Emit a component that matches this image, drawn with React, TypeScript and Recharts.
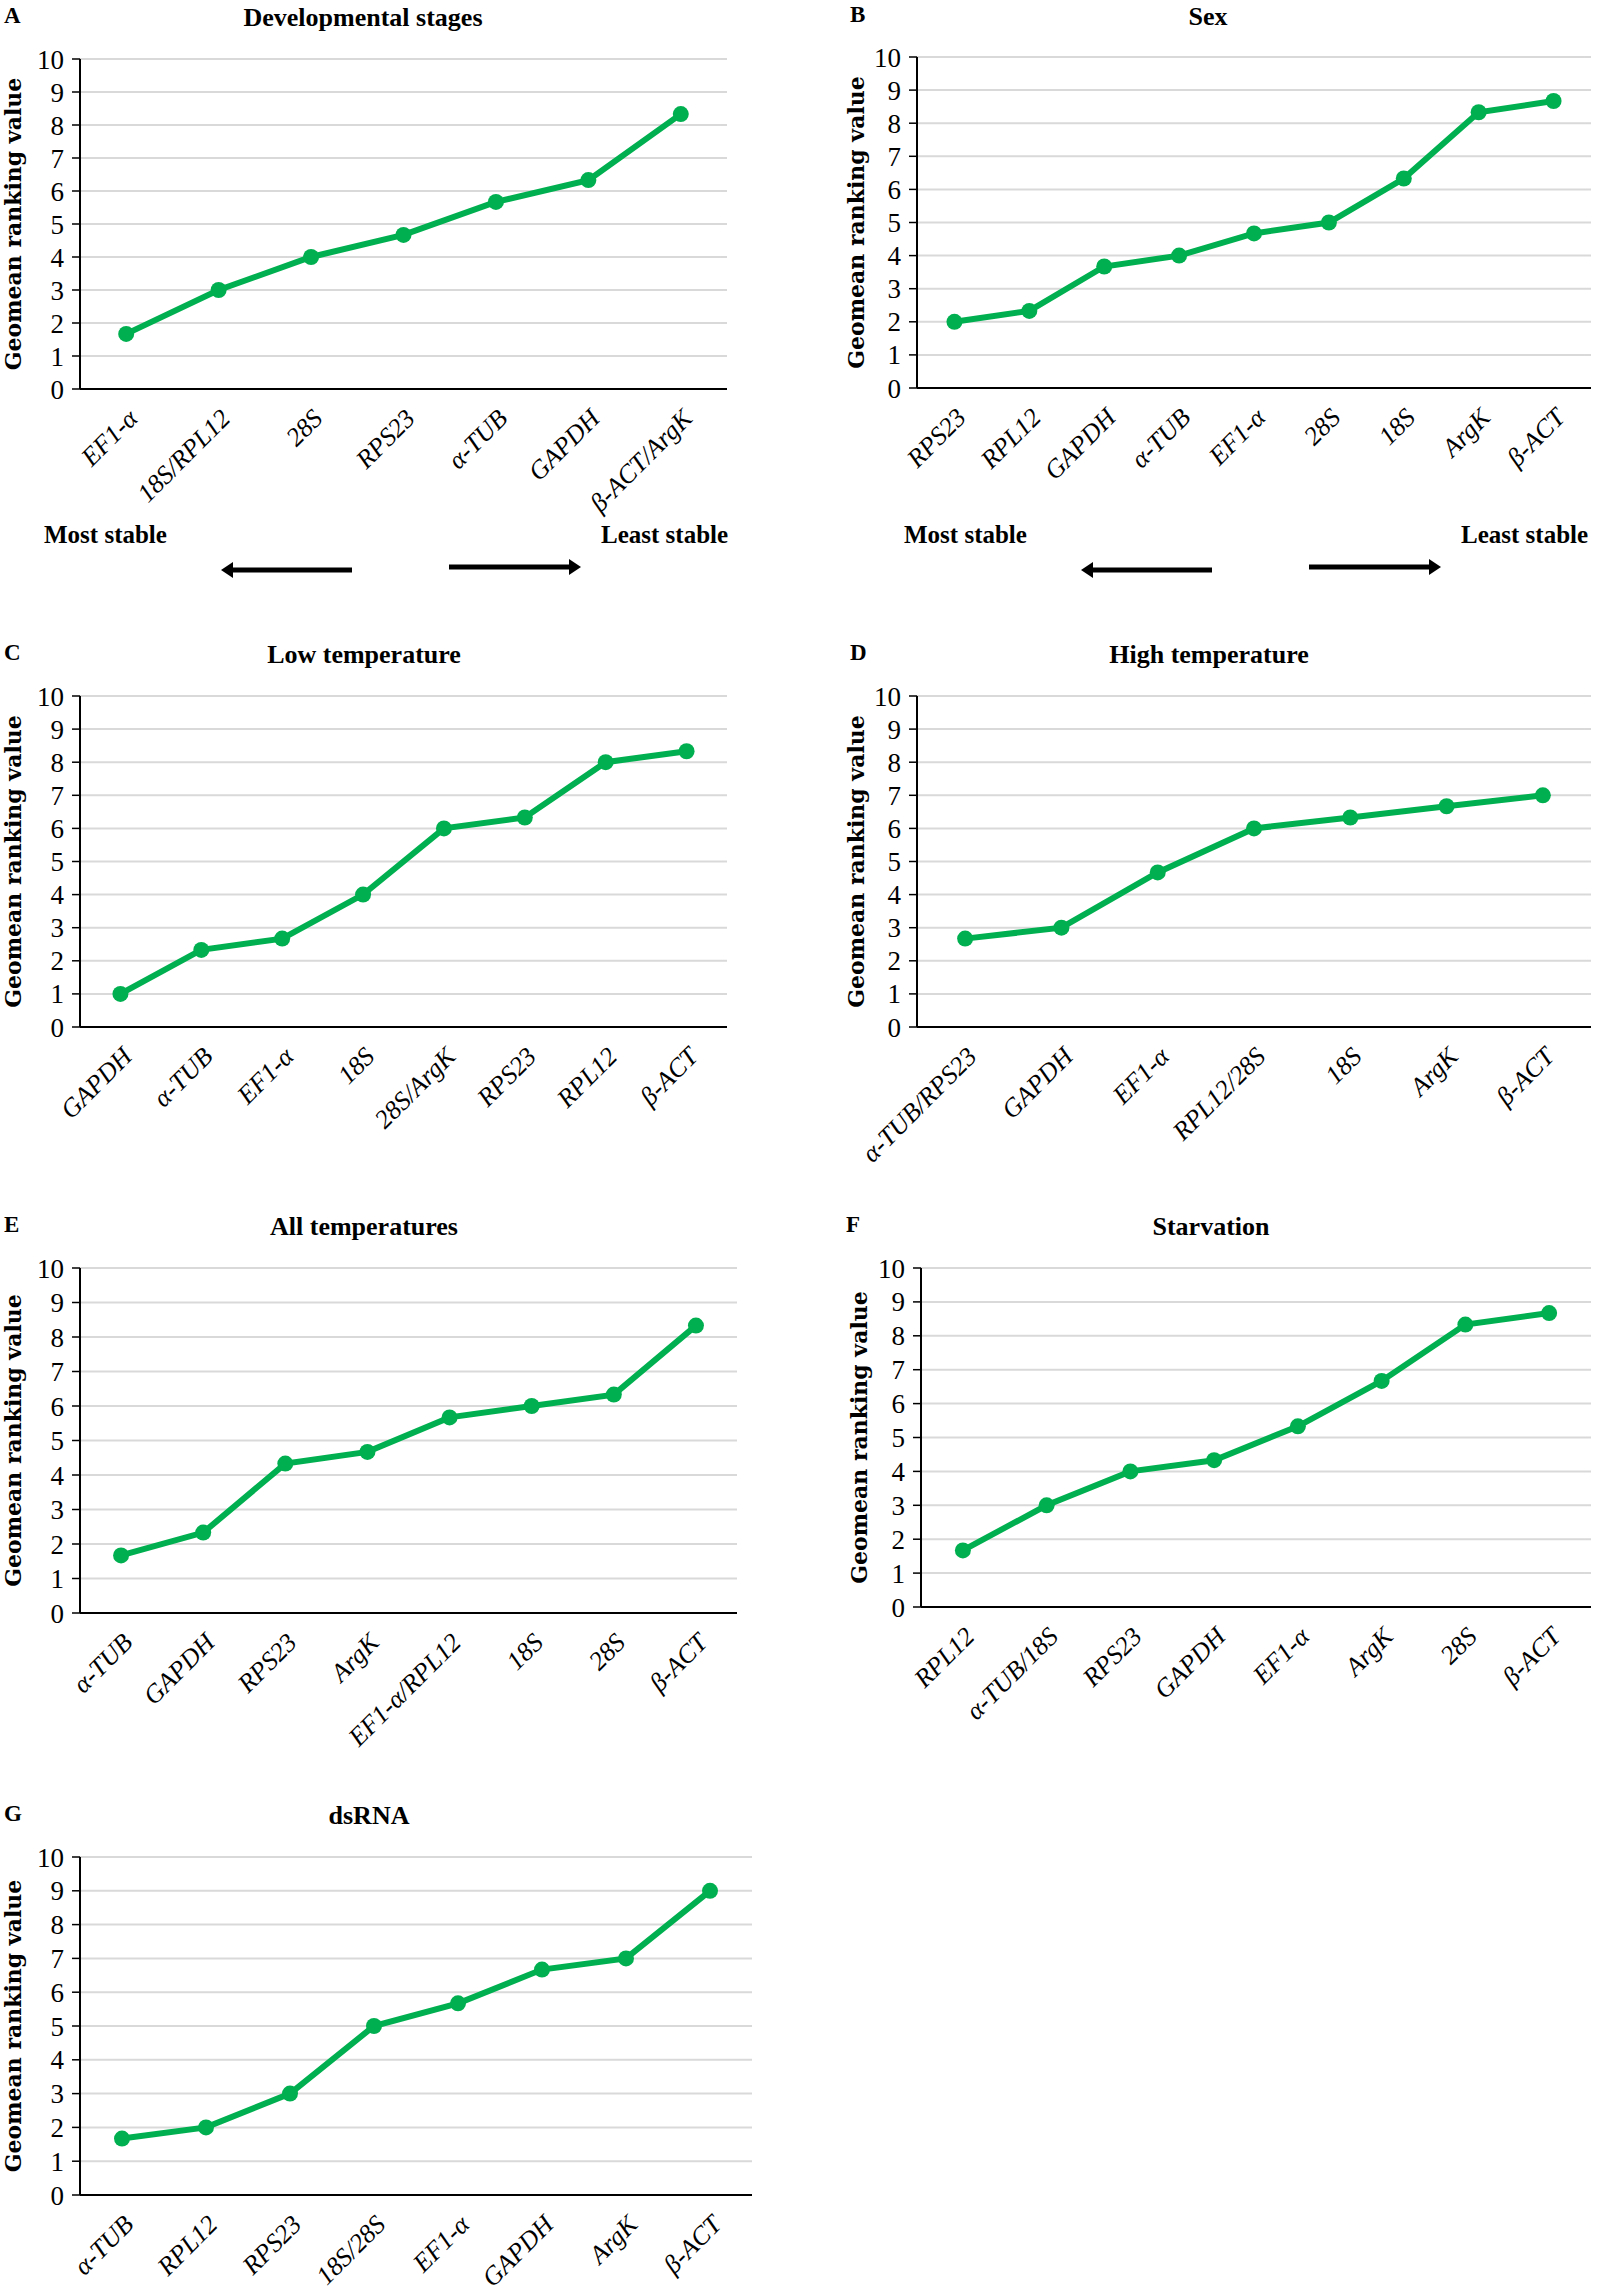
import React from "react";
import {CartesianGrid, Line, LineChart, XAxis, YAxis} from "recharts";

const GREEN = '#00b050';
const SERIF = '"Liberation Serif", serif';

// A - developmental stages
const devGenes = ['EF1-α', '18S/RPL12', '28S', 'RPS23', 'α-TUB', 'GAPDH', 'β-ACT/ArgK'];
const devValues = [1.67, 3, 4, 4.67, 5.67, 6.33, 8.33];

// B - sex
const sexGenes = ['RPS23', 'RPL12', 'GAPDH', 'α-TUB', 'EF1-α', '28S', '18S', 'ArgK', 'β-ACT'];
const sexValues = [2, 2.33, 3.67, 4, 4.67, 5, 6.33, 8.33, 8.67];

// C - low temperature
const lowGenes = ['GAPDH', 'α-TUB', 'EF1-α', '18S', '28S/ArgK', 'RPS23', 'RPL12', 'β-ACT'];
const lowValues = [1, 2.33, 2.67, 4, 6, 6.33, 8, 8.33];

// D - high temperature
const highGenes = ['α-TUB/RPS23', 'GAPDH', 'EF1-α', 'RPL12/28S', '18S', 'ArgK', 'β-ACT'];
const highValues = [2.67, 3, 4.67, 6, 6.33, 6.67, 7];

// E - all temperatures
const allGenes = ['α-TUB', 'GAPDH', 'RPS23', 'ArgK', 'EF1-α/RPL12', '18S', '28S', 'β-ACT'];
const allValues = [1.67, 2.33, 4.33, 4.67, 5.67, 6, 6.33, 8.33];

// F - starvation
const starvGenes = ['RPL12', 'α-TUB/18S', 'RPS23', 'GAPDH', 'EF1-α', 'ArgK', '28S', 'β-ACT'];
const starvValues = [1.67, 3, 4, 4.33, 5.33, 6.67, 8.33, 8.67];

// G - dsRNA
const dsGenes = ['α-TUB', 'RPL12', 'RPS23', '18S/28S', 'EF1-α', 'GAPDH', 'ArgK', 'β-ACT'];
const dsValues = [1.67, 2, 3, 5, 5.67, 6.67, 7, 9];

const yTicks = [0, 1, 2, 3, 4, 5, 6, 7, 8, 9, 10];

const toRows = (genes: string[], values: number[]) => genes.map((gene, i) => ({gene, value: values[i]}));

const XTick = ({x, y, payload}: any) => {
    const tx = x + 13;
    const ty = y + 31;
    return (
        <text x={tx} y={ty} transform={`rotate(-45 ${tx} ${ty})`} textAnchor="end"
              fontFamily={SERIF} fontStyle="italic" fontSize={26} fill="#000">
            {payload.value}
        </text>
    );
};

interface PanelProps {
    letter: string,
    title: string,
    genes: string[],
    values: number[],
    chartX: number,
    left: number,
    right: number,
    top: number,
    bottom: number,
    letterX: number,
    titleX: number,
    labelX: number,
    axisHeight?: number
}

const TOP_PAD = 22;

const Panel = ({letter, title, genes, values, chartX, left, right, top, bottom, letterX, titleX, labelX, axisHeight = 150}: PanelProps) => {
    const data = toRows(genes, values);
    const plotW = right - left;
    const half = plotW / genes.length / 2;
    const chartY = top - TOP_PAD;
    const width = right - chartX + 4;
    const height = bottom - chartY + axisHeight;
    const headTop = Math.max(2, top - 56);
    return (
        <>
            <div style={{position: 'absolute', left: letterX, top: headTop, lineHeight: '26px', fontFamily: SERIF, fontWeight: 'bold', fontSize: 23}}>{letter}</div>
            <div style={{position: 'absolute', left: titleX - 250, width: 500, textAlign: 'center', top: headTop, lineHeight: '30px', fontFamily: SERIF, fontWeight: 'bold', fontSize: 26}}>{title}</div>
            <div style={{position: 'absolute', left: chartX, top: chartY}}>
                <LineChart width={width} height={height} data={data} margin={{top: TOP_PAD, right: 4, bottom: 0, left: 0}}>
                    <CartesianGrid horizontal vertical={false} stroke="#d9d9d9" strokeWidth={2}/>
                    <XAxis dataKey="gene" interval={0} tick={<XTick/>} tickLine={false} tickSize={0} tickMargin={0}
                           height={axisHeight} padding={{left: half, right: half}}
                           axisLine={{stroke: '#000', strokeWidth: 2}}/>
                    <XAxis xAxisId="top" orientation="top" dataKey="gene" tick={false} tickLine={false} height={0}
                           padding={{left: half, right: half}} axisLine={{stroke: '#000', strokeWidth: 2}}/>
                    <YAxis domain={[0, 10]} ticks={yTicks} interval={0} width={left - chartX} tickSize={8} tickMargin={8}
                           axisLine={{stroke: '#000', strokeWidth: 2}} tickLine={{stroke: '#000', strokeWidth: 1.5}}
                           tick={{fontFamily: SERIF, fontSize: 27, fill: '#000'}}
                           label={{
                               value: 'Geomean ranking value', angle: -90, position: 'insideLeft',
                               offset: labelX - chartX,
                               style: {textAnchor: 'middle', fontFamily: '"DejaVu Serif", serif', fontWeight: 'bold', fontSize: 22, fill: '#000'}
                           }}/>
                    <YAxis yAxisId="right" orientation="right" domain={[0, 10]} width={0} tick={false} tickLine={false}
                           axisLine={{stroke: '#000', strokeWidth: 2}}/>
                    <Line type="linear" dataKey="value" stroke={GREEN} strokeWidth={6}
                          dot={{r: 8, fill: GREEN, stroke: GREEN, strokeWidth: 0}}
                          activeDot={false} isAnimationActive={false}/>
                </LineChart>
            </div>
        </>
    );
};

const Arrow = ({x1, x2, y}: { x1: number, x2: number, y: number }) => {
    const dir = x2 > x1 ? 1 : -1;
    const tip = x2;
    const base = x2 - dir * 12;
    return (
        <g>
            <line x1={x1} y1={y} x2={base} y2={y} stroke="#000" strokeWidth={5}/>
            <polygon points={`${tip},${y} ${base},${y - 8} ${base},${y + 8}`} fill="#000"/>
        </g>
    );
};

const StableLegend = ({x}: { x: number }) => (
    <>
        <div style={{position: 'absolute', left: x + 44, top: 521, fontFamily: SERIF, fontWeight: 'bold', fontSize: 25}}>Most stable</div>
        <div style={{position: 'absolute', left: x + 601, top: 521, fontFamily: SERIF, fontWeight: 'bold', fontSize: 25}}>Least stable</div>
        <svg style={{position: 'absolute', left: x, top: 550}} width={760} height={40}>
            <Arrow x1={352} x2={221} y={20}/>
            <Arrow x1={449} x2={581} y={17}/>
        </svg>
    </>
);

export default function App() {
    return (
        <div style={{position: 'absolute', left: 0, top: 0, width: 1597, height: 2295, overflow: 'hidden', background: '#fff', color: '#000'}}>
            <Panel letter="A" title="Developmental stages" genes={devGenes} values={devValues}
                   chartX={0} left={80} right={727} top={59} bottom={389} letterX={4} titleX={363} labelX={13}/>
            <Panel letter="B" title="Sex" genes={sexGenes} values={sexValues}
                   chartX={835} left={917} right={1591} top={57} bottom={388} letterX={850} titleX={1208} labelX={856}/>
            <StableLegend x={0}/>
            <StableLegend x={860}/>
            <Panel letter="C" title="Low temperature" genes={lowGenes} values={lowValues}
                   chartX={0} left={80} right={727} top={696} bottom={1027} letterX={4} titleX={364} labelX={13}/>
            <Panel letter="D" title="High temperature" genes={highGenes} values={highValues}
                   chartX={835} left={917} right={1591} top={696} bottom={1027} letterX={850} titleX={1209} labelX={856}/>
            <Panel letter="E" title="All temperatures" genes={allGenes} values={allValues}
                   chartX={0} left={80} right={737} top={1268} bottom={1613} letterX={4} titleX={364} labelX={13}/>
            <Panel letter="F" title="Starvation" genes={starvGenes} values={starvValues}
                   chartX={835} left={921} right={1591} top={1268} bottom={1607} letterX={846} titleX={1211} labelX={859}/>
            <Panel letter="G" title="dsRNA" genes={dsGenes} values={dsValues}
                   chartX={0} left={80} right={752} top={1857} bottom={2195} letterX={4} titleX={369} labelX={13}
                   axisHeight={98}/>
        </div>
    );
}
